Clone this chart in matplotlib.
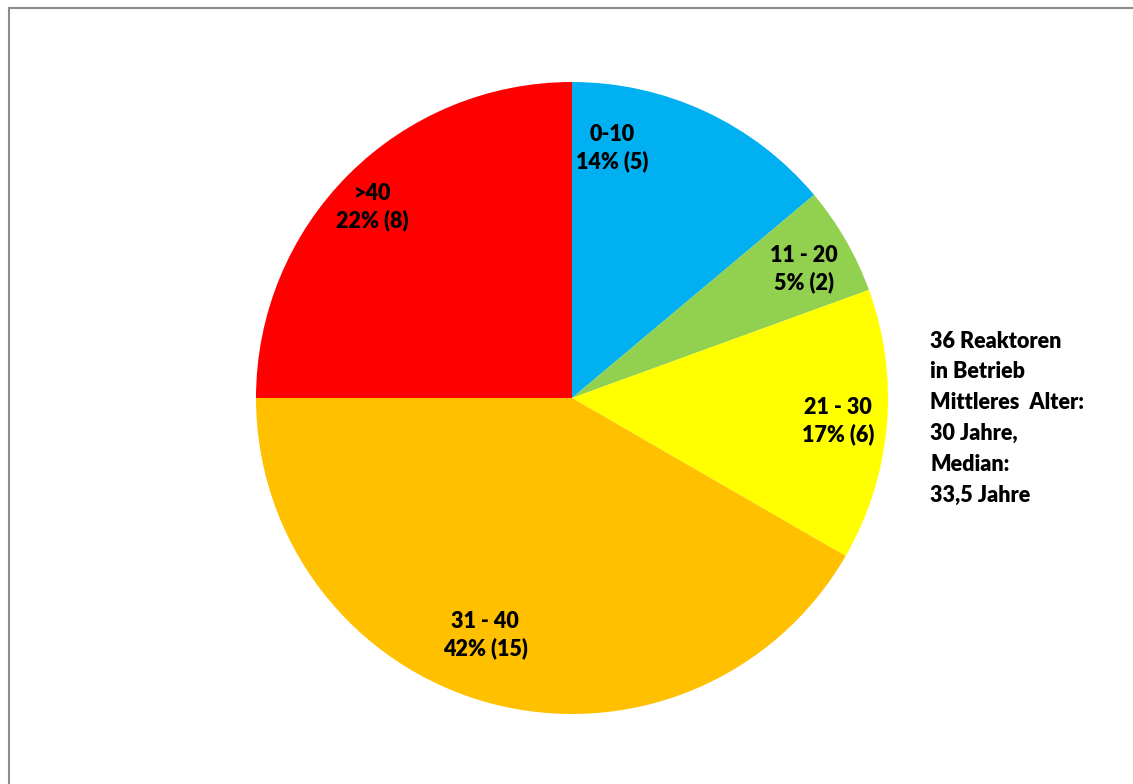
import matplotlib
matplotlib.use("Agg")
import matplotlib.pyplot as plt
from matplotlib.lines import Line2D

categories = ["0-10", "11 - 20", "21 - 30", "31 - 40", ">40"]
# wedge sizes as drawn in the picture (angles), and the counts printed in the labels
wedge_sizes = [5, 2, 5, 15, 9]
counts = [5, 2, 6, 15, 8]
percents = ["14%", "5%", "17%", "42%", "22%"]
colors = ["#00B0F0", "#92D050", "#FFFF00", "#FFC000", "#FF0000"]
info_lines = ["36 Reaktoren", "in Betrieb", "Mittleres  Alter:", "30 Jahre,", "Median:", "33,5 Jahre"]

W, H = 1133, 784
fig = plt.figure(figsize=(W / 100, H / 100), dpi=100)
ax = fig.add_axes([0, 0, 1, 1])

cx, cy, r = 572, H - 398, 316
ax.pie(wedge_sizes, colors=colors, startangle=90, counterclock=False,
       center=(cx, cy), radius=r, wedgeprops=dict(linewidth=0),
       frame=True)
ax.set_xlim(0, W)
ax.set_ylim(0, H)
ax.set_aspect("equal")
ax.axis("off")

label_pos = [(612, 148), (804, 269), (838, 421), (485, 635), (372, 207)]
font = dict(family=["Lato", "DejaVu Sans"], weight="heavy", fontsize=15.5, color="black")
for cat, n, p, (x, y) in zip(categories, counts, percents, label_pos):
    ax.text(x, H - y, f"{cat}\n{p} ({n})", ha="center", va="center",
            linespacing=1.3, **font)

y0 = 341
for i, line in enumerate(info_lines):
    ax.text(930, H - (y0 + i * 30.8), line, ha="left", va="center", **font)

fig.add_artist(Line2D([8.5 / W, 8.5 / W], [0, 1 - 7.5 / H], transform=fig.transFigure,
                      color="#8c8c8c", lw=1.5))
fig.add_artist(Line2D([8.5 / W, 1], [1 - 7.5 / H, 1 - 7.5 / H], transform=fig.transFigure,
                      color="#8c8c8c", lw=1.5))

fig.savefig("out.png", dpi=100, facecolor="white")
